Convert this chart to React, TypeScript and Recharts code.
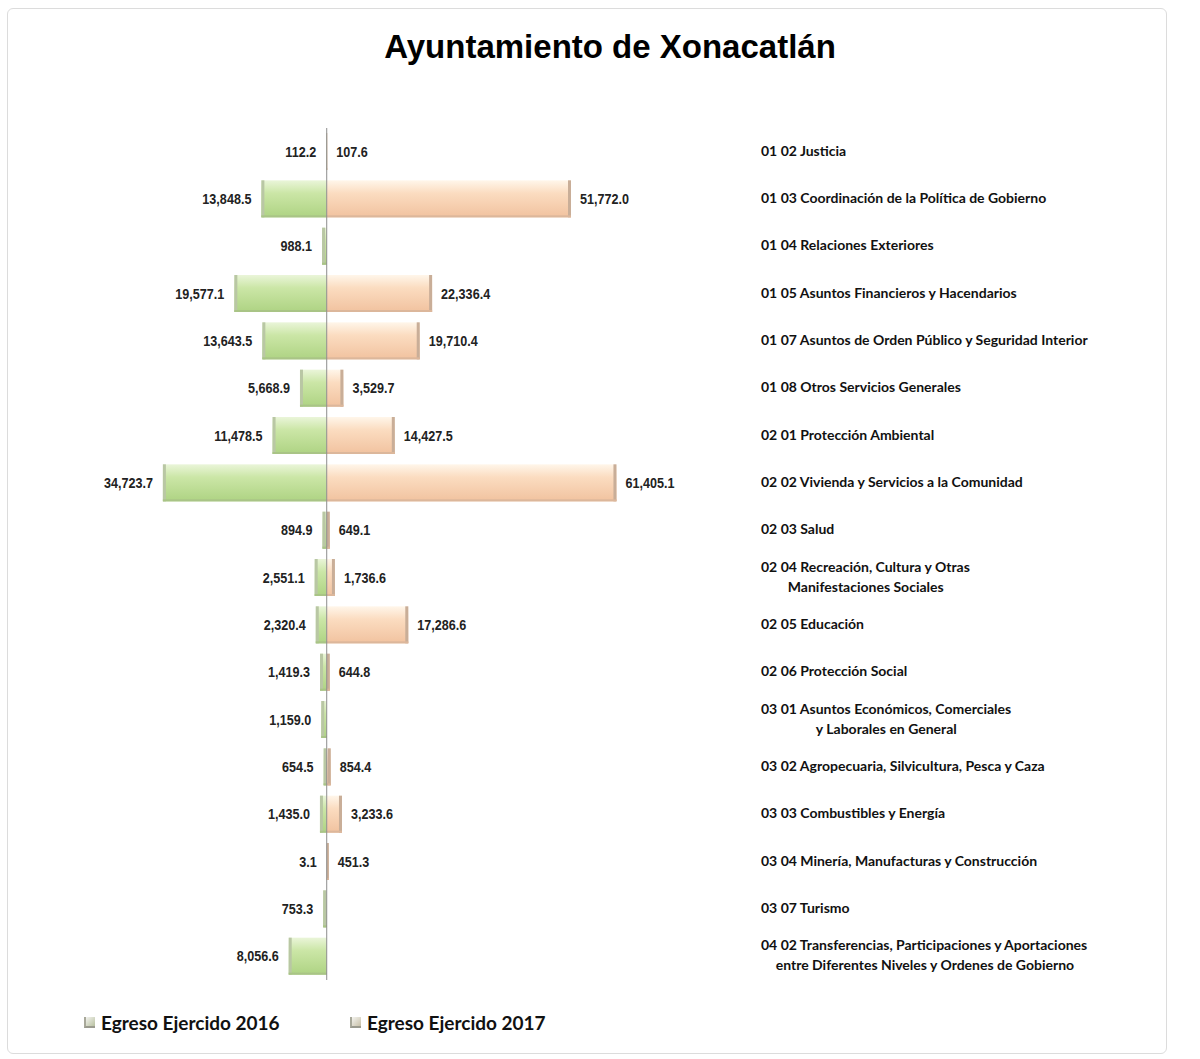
import { BarChart, Bar, XAxis, YAxis, ReferenceLine, LabelList } from 'recharts'

const categories = [
  '01 02 Justicia',
  '01 03 Coordinación de la Política de Gobierno',
  '01 04 Relaciones Exteriores',
  '01 05 Asuntos Financieros y Hacendarios',
  '01 07 Asuntos de Orden Público y Seguridad Interior',
  '01 08 Otros Servicios Generales',
  '02 01 Protección Ambiental',
  '02 02 Vivienda y Servicios a la Comunidad',
  '02 03 Salud',
  '02 04 Recreación, Cultura y Otras\nManifestaciones Sociales',
  '02 05 Educación',
  '02 06 Protección Social',
  '03 01 Asuntos Económicos, Comerciales\ny Laborales en General',
  '03 02 Agropecuaria, Silvicultura, Pesca y Caza',
  '03 03 Combustibles y Energía',
  '03 04 Minería, Manufacturas y Construcción',
  '03 07 Turismo',
  '04 02 Transferencias, Participaciones y Aportaciones\nentre Diferentes Niveles y Ordenes de Gobierno',
]

const egreso2016 = [
  112.2, 13848.5, 988.1, 19577.1, 13643.5, 5668.9, 11478.5, 34723.7, 894.9,
  2551.1, 2320.4, 1419.3, 1159.0, 654.5, 1435.0, 3.1, 753.3, 8056.6,
]

const egreso2017 = [
  107.6, 51772.0, null, 22336.4, 19710.4, 3529.7, 14427.5, 61405.1, 649.1,
  1736.6, 17286.6, 644.8, null, 854.4, 3233.6, 451.3, null, null,
]

const seriesNames = ['Egreso Ejercido 2016', 'Egreso Ejercido 2017']

const data = categories.map((name, i) => ({
  name,
  y2016: -egreso2016[i],
  y2017: egreso2017[i],
}))

const LABEL_FONT = 'Lato, "Open Sans", sans-serif'
const VALUE_FONT = '"Liberation Sans", Arial, sans-serif'
const LABEL_X = 761

function fmt(v: number) {
  return Math.abs(v).toLocaleString('en-US', {
    minimumFractionDigits: 1,
    maximumFractionDigits: 1,
  })
}

let ctx: CanvasRenderingContext2D | null = null
function measure(text: string, font: string) {
  if (!ctx) ctx = document.createElement('canvas').getContext('2d')
  if (!ctx) return text.length * 7
  ctx.font = font
  return ctx.measureText(text).width
}

function CategoryTick(props: any) {
  const { y, payload } = props
  const lines = String(payload.value).split('\n')
  if (lines.length === 1) {
    return (
      <text x={LABEL_X} y={y} dy={4} fontFamily={LABEL_FONT} fontWeight={700} fontSize={14} fill="#111">
        {lines[0]}
      </text>
    )
  }
  const w = measure(lines[0], `bold 14px ${LABEL_FONT}`)
  return (
    <g>
      <text x={LABEL_X} y={y - 10} dy={4} fontFamily={LABEL_FONT} fontWeight={700} fontSize={14} fill="#111">
        {lines[0]}
      </text>
      <text x={LABEL_X + w / 2} y={y + 10} dy={4} textAnchor="middle" fontFamily={LABEL_FONT} fontWeight={700} fontSize={14} fill="#111">
        {lines[1]}
      </text>
    </g>
  )
}

// narrow-looking numbers: squeeze Liberation Sans horizontally
function ValueLabel(side: 'left' | 'right') {
  return (props: any) => {
    const { x, y, width, height, value } = props
    if (value == null || value === 0) return null
    const a = Number(x)
    const b = Number(x) + Number(width)
    const cy = Number(y) + Number(height) / 2
    const px = side === 'left' ? Math.min(a, b) - 10 : Math.max(a, b) + 9
    return (
      <text
        x={0}
        y={0}
        dy={5}
        transform={`translate(${px},${cy}) scale(0.84,1)`}
        textAnchor={side === 'left' ? 'end' : 'start'}
        fontFamily={VALUE_FONT}
        fontWeight={700}
        fontSize={15}
        fill="#222"
      >
        {fmt(Number(value))}
      </text>
    )
  }
}

function BevelBar(kind: 'green' | 'peach') {
  return (props: any) => {
    const { x, y, width, height } = props
    const left = Math.min(x, x + width)
    const w = Math.abs(width)
    if (!w) return <g />
    const edge = kind === 'green' ? left : left + w - Math.min(3, w)
    return (
      <g>
        <rect x={left} y={y} width={w} height={height} fill={`url(#grad-${kind})`} />
        <rect
          x={edge}
          y={y}
          width={Math.min(3, w)}
          height={height}
          fill={kind === 'green' ? '#b9c7a4' : '#c9ae98'}
        />
        <rect x={left} y={y + height - 2} width={w} height={2} fill={kind === 'green' ? '#a9c486' : '#dcb79b'} />
      </g>
    )
  }
}

function LegendIcon({ color }: { color: string }) {
  return (
    <span
      style={{
        display: 'inline-block',
        width: 9,
        height: 9,
        marginRight: 6,
        background: `linear-gradient(135deg, #f4f4f0 0%, ${color} 100%)`,
        borderLeft: '2px solid #a8a89a',
        borderBottom: '2px solid #9a9a8e',
      }}
    />
  )
}

export default function App() {
  return (
    <div style={{ position: 'absolute', left: 0, top: 0, width: 1200, height: 1059, background: '#fff' }}>
      <div
        style={{
          position: 'absolute',
          left: 7,
          top: 8,
          width: 1158,
          height: 1044,
          border: '1px solid #dcdcdc',
          borderRadius: 6,
        }}
      />
      <div
        style={{
          position: 'absolute',
          left: 0,
          top: 28,
          width: 1220,
          textAlign: 'center',
          fontFamily: '"Liberation Sans", Arial, sans-serif',
          fontWeight: 700,
          fontSize: 33,
          lineHeight: '38px',
          color: '#000',
        }}
      >
        Ayuntamiento de Xonacatlán
      </div>
      <div style={{ position: 'absolute', left: 0, top: 0 }}>
        <BarChart
          width={1200}
          height={1059}
          data={data}
          layout="vertical"
          stackOffset="sign"
          barSize={37}
          margin={{ top: 128, right: 0, left: 138, bottom: 79 }}
        >
          <defs>
            <linearGradient id="grad-green" x1="0" y1="0" x2="0" y2="1">
              <stop offset="0%" stopColor="#eaf5d9" />
              <stop offset="35%" stopColor="#cbe6a6" />
              <stop offset="100%" stopColor="#aed383" />
            </linearGradient>
            <linearGradient id="grad-peach" x1="0" y1="0" x2="0" y2="1">
              <stop offset="0%" stopColor="#fff6ea" />
              <stop offset="35%" stopColor="#fbdcc0" />
              <stop offset="100%" stopColor="#f1c29f" />
            </linearGradient>
          </defs>
          <XAxis type="number" hide domain={[-40000, 70000]} />
          <YAxis
            type="category"
            dataKey="name"
            orientation="right"
            width={543}
            axisLine={false}
            tickLine={false}
            interval={0}
            tick={CategoryTick}
          />
          <Bar
            dataKey="y2016"
            name={seriesNames[0]}
            stackId="a"
            shape={BevelBar('green')}
            isAnimationActive={false}
          >
            <LabelList dataKey="y2016" content={ValueLabel('left')} />
          </Bar>
          <Bar
            dataKey="y2017"
            name={seriesNames[1]}
            stackId="a"
            shape={BevelBar('peach')}
            isAnimationActive={false}
          >
            <LabelList dataKey="y2017" content={ValueLabel('right')} />
          </Bar>
          <ReferenceLine x={0} stroke="#8c8c8c" strokeWidth={1} />
        </BarChart>
      </div>
      <div
        style={{
          position: 'absolute',
          left: 84,
          top: 1011,
          display: 'flex',
          fontFamily: LABEL_FONT,
          fontWeight: 700,
          fontSize: 19,
          color: '#111',
        }}
      >
        <div style={{ display: 'flex', alignItems: 'center', width: 266 }}>
          <LegendIcon color="#b8c0a0" />
          {seriesNames[0]}
        </div>
        <div style={{ display: 'flex', alignItems: 'center' }}>
          <LegendIcon color="#c8c0a8" />
          {seriesNames[1]}
        </div>
      </div>
    </div>
  )
}
